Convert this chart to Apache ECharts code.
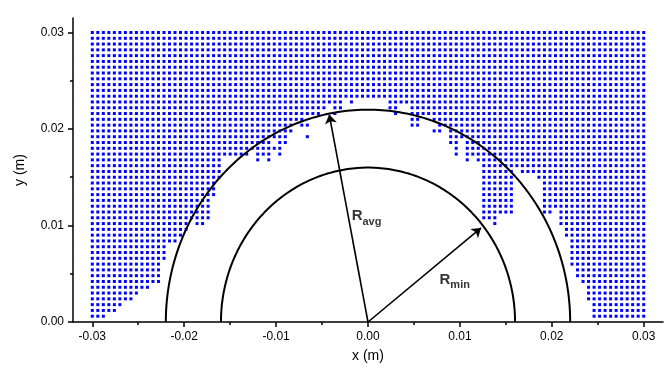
<!DOCTYPE html>
<html><head><meta charset="utf-8">
<script src="https://cdn.jsdelivr.net/npm/echarts@6/dist/echarts.min.js"></script>
<style>html,body{margin:0;padding:0;background:#fff}#c{width:665px;height:373px}</style>
</head><body><div id="c"></div>
<script>
// ---- data ----
const xTicks = [-0.03, -0.02, -0.01, 0, 0.01, 0.02, 0.03];
const xMinorTicks = [-0.025, -0.015, -0.005, 0.005, 0.015, 0.025];
const yTicks = [0, 0.01, 0.02, 0.03];
const yMinorTicks = [0.005, 0.015, 0.025];
// regular point grid: column i -> x = gridX0 + i*gridStep, row j -> y = j*gridStep
const gridX0 = -0.03, gridStep = 0.0006;
// occupied column ranges [from, to] for each row j (1..50)
const rowSegments = {
  1: [[0,2],[91,100]],
  2: [[0,4],[91,100]],
  3: [[0,5],[91,100]],
  4: [[0,7],[90,100]],
  5: [[0,8],[90,100]],
  6: [[0,10],[90,100]],
  7: [[0,12],[89,100]],
  8: [[0,12],[88,100]],
  9: [[0,12],[88,100]],
  10: [[0,12],[87,100]],
  11: [[0,13],[87,100]],
  12: [[0,13],[87,100]],
  13: [[0,13],[87,100]],
  14: [[0,15],[87,100]],
  15: [[0,16],[86,100]],
  16: [[0,17],[86,100]],
  17: [[0,17],[19,20],[73,73],[85,100]],
  18: [[0,21],[71,73],[85,100]],
  19: [[0,21],[71,76],[82,83],[85,100]],
  20: [[0,21],[71,76],[82,100]],
  21: [[0,21],[71,76],[82,100]],
  22: [[0,22],[71,76],[82,100]],
  23: [[0,22],[71,76],[82,100]],
  24: [[0,22],[71,76],[82,100]],
  25: [[0,23],[71,76],[81,100]],
  26: [[0,23],[71,76],[78,100]],
  27: [[0,23],[71,100]],
  28: [[0,23],[30,30],[32,32],[68,68],[70,100]],
  29: [[0,28],[30,32],[34,34],[66,66],[68,100]],
  30: [[0,34],[66,66],[68,100]],
  31: [[0,32],[34,35],[65,66],[68,100]],
  32: [[0,35],[39,39],[65,100]],
  33: [[0,36],[62,63],[65,100]],
  34: [[0,36],[38,39],[58,59],[63,100]],
  35: [[0,38],[58,59],[62,100]],
  36: [[0,41],[44,44],[55,55],[58,100]],
  37: [[0,42],[44,45],[54,55],[58,100]],
  38: [[0,45],[47,47],[54,100]],
  39: [[0,100]], 40: [[0,100]], 41: [[0,100]], 42: [[0,100]], 43: [[0,100]], 44: [[0,100]],
  45: [[0,100]], 46: [[0,100]], 47: [[0,100]], 48: [[0,100]], 49: [[0,100]], 50: [[0,100]]
};
const circleRadii = [0.016, 0.022];
const arrowRadii = [0.0219, 0.0157];
const arrowAngles = [101.1, 38.4];   // degrees
const arrowNames = ['avg', 'min'];

// ---- build ----
const points = [];
Object.keys(rowSegments).forEach(function (j) {
  rowSegments[j].forEach(function (seg) {
    for (let i = seg[0]; i <= seg[1]; i++) {
      points.push([+(gridX0 + i * gridStep).toFixed(5), +(j * gridStep).toFixed(5)]);
    }
  });
});
function semicircle(r) {
  const d = [];
  for (let k = 0; k <= 360; k++) {
    const t = Math.PI * k / 360;
    d.push([r * Math.cos(t), r * Math.sin(t)]);
  }
  return d;
}
const arrowTips = arrowAngles.map(function (a, k) {
  const t = a * Math.PI / 180;
  return [arrowRadii[k] * Math.cos(t), arrowRadii[k] * Math.sin(t)];
});

const FONT = 'Liberation Sans, Arial, sans-serif';
const chart = echarts.init(document.getElementById('c'), null, {renderer: 'canvas'});
const fmt = function (v) { return (Math.abs(v) < 1e-9 ? 0 : v).toFixed(2); };
const labelOffsets = [[-2, -4], [10, 3]];

chart.setOption({
  animation: false,
  backgroundColor: '#fff',
  grid: {left: 73, right: 2, top: 18, bottom: 51},
  xAxis: [{
    type: 'value', min: -0.0321, max: 0.0321, position: 'bottom',
    name: 'x (m)', nameLocation: 'middle', nameGap: 27,
    nameTextStyle: {fontFamily: FONT, fontSize: 14, color: '#000'},
    axisLine: {show: true, onZero: false, lineStyle: {color: '#000', width: 1.5}},
    axisTick: {show: true, customValues: xTicks, length: 5, inside: false, lineStyle: {color: '#000', width: 1.5}},
    axisLabel: {customValues: xTicks, formatter: fmt, fontFamily: FONT, fontSize: 12, color: '#000', margin: 9},
    splitLine: {show: false}
  }, {
    type: 'value', min: -0.0321, max: 0.0321, position: 'bottom',
    axisLine: {show: false, onZero: false},
    axisTick: {show: true, customValues: xMinorTicks, length: 3, inside: false, lineStyle: {color: '#000', width: 1.5}},
    axisLabel: {show: false, customValues: xMinorTicks},
    splitLine: {show: false}
  }],
  yAxis: [{
    type: 'value', min: 0, max: 0.0315, position: 'left',
    name: 'y (m)', nameLocation: 'middle', nameGap: 46, nameRotate: 90,
    nameTextStyle: {fontFamily: FONT, fontSize: 14, color: '#000'},
    axisLine: {show: true, onZero: false, lineStyle: {color: '#000', width: 1.5}},
    axisTick: {show: true, customValues: yTicks, length: 5, inside: false, lineStyle: {color: '#000', width: 1.5}},
    axisLabel: {customValues: yTicks, formatter: fmt, fontFamily: FONT, fontSize: 12, color: '#000', margin: 9},
    splitLine: {show: false}
  }, {
    type: 'value', min: 0, max: 0.0315, position: 'left',
    axisLine: {show: false, onZero: false},
    axisTick: {show: true, customValues: yMinorTicks, length: 3, inside: false, lineStyle: {color: '#000', width: 1.5}},
    axisLabel: {show: false, customValues: yMinorTicks},
    splitLine: {show: false}
  }],
  series: [{
    type: 'scatter', name: 'points', data: points, symbol: 'rect', symbolSize: 3,
    itemStyle: {color: '#0000ff', opacity: 1}, silent: true, large: false
  }].concat(circleRadii.map(function (r) {
    return {
      type: 'line', data: semicircle(r), showSymbol: false, symbol: 'none', smooth: false, silent: true,
      lineStyle: {color: '#000', width: 2}, z: 3
    };
  })).concat([{
    type: 'lines', coordinateSystem: 'cartesian2d', silent: true, z: 4,
    symbol: ['none', 'arrow'], symbolSize: 9,
    lineStyle: {color: '#000', width: 1.6, opacity: 1},
    data: arrowTips.map(function (p) { return {coords: [[0, 0], p]}; })
  }, {
    type: 'scatter', silent: true, symbolSize: 0, z: 5,
    data: arrowTips.map(function (p, k) { return {value: [p[0] / 2, p[1] / 2], name: arrowNames[k]}; }),
    label: {
      show: true, position: 'right',
      formatter: function (p) { return '{R|R}{s|' + p.name + '}'; },
      rich: {
        R: {fontFamily: FONT, fontSize: 15, fontWeight: 'bold', color: '#000', lineHeight: 18, verticalAlign: 'bottom'},
        s: {fontFamily: FONT, fontSize: 11, fontWeight: 'bold', color: '#000', lineHeight: 18, verticalAlign: 'bottom', padding: [0, 0, -4, 0]}
      }
    },
    labelLayout: function (params) {
      const k = params.dataIndex;
      return {dx: labelOffsets[k][0], dy: labelOffsets[k][1]};
    }
  }])
});
</script>
</body></html>
